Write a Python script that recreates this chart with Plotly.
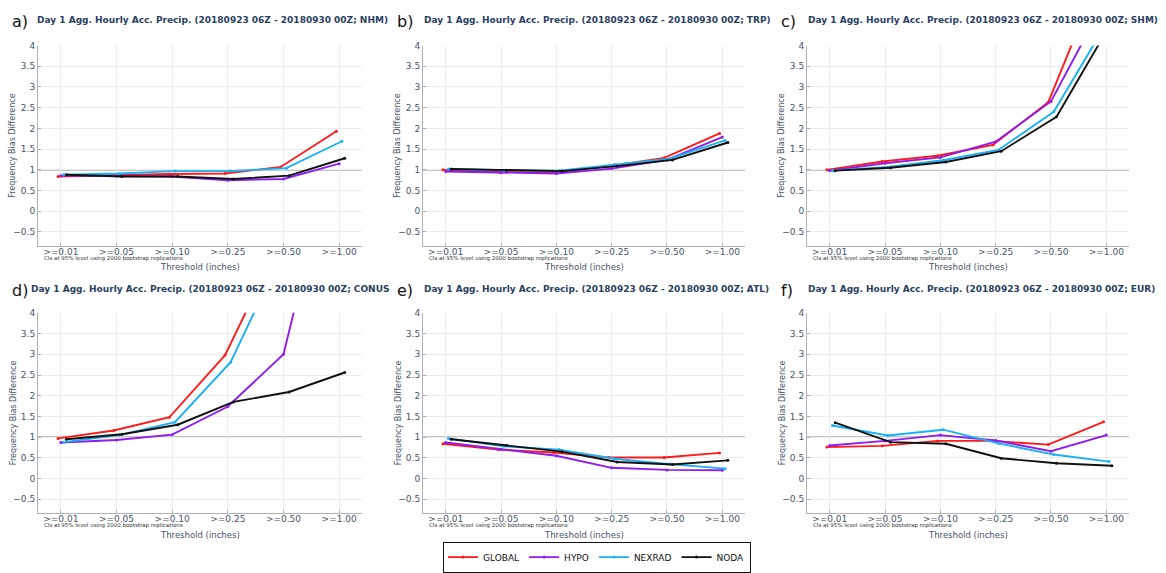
import plotly.graph_objects as go

thresholds = [">=0.01", ">=0.05", ">=0.10", ">=0.25", ">=0.50", ">=1.00"]
series_names = ["GLOBAL", "HYPO", "NEXRAD", "NODA"]
series_colors = ["#ff1a1a", "#8f1cf0", "#1ab0f5", "#111111"]
dodge = [-0.05, 0.0, 0.05, 0.1]

regions = ["NHM", "TRP", "SHM", "CONUS", "ATL", "EUR"]
panel_labels = ["a)", "b)", "c)", "d)", "e)", "f)"]

# Frequency bias values per region, per series (GLOBAL, HYPO, NEXRAD, NODA)
nhm_global = [0.84, 0.87, 0.90, 0.91, 1.07, 1.93]
nhm_hypo = [0.86, 0.85, 0.84, 0.75, 0.78, 1.15]
nhm_nexrad = [0.88, 0.91, 0.97, 0.97, 1.04, 1.69]
nhm_noda = [0.88, 0.84, 0.84, 0.78, 0.86, 1.28]

trp_global = [1.00, 0.95, 0.94, 1.09, 1.29, 1.88]
trp_hypo = [0.96, 0.93, 0.91, 1.03, 1.24, 1.79]
trp_nexrad = [1.02, 0.99, 0.98, 1.13, 1.27, 1.71]
trp_noda = [1.02, 0.99, 0.97, 1.09, 1.24, 1.66]

shm_global = [1.00, 1.20, 1.34, 1.60, 2.63, 5.90]
shm_hypo = [0.98, 1.16, 1.30, 1.68, 2.65, 5.15]
shm_nexrad = [0.98, 1.07, 1.23, 1.48, 2.40, 4.64]
shm_noda = [0.98, 1.05, 1.19, 1.45, 2.28, 4.57]

conus_global = [0.97, 1.16, 1.48, 2.98, 5.75, 7.00]
conus_hypo = [0.87, 0.93, 1.06, 1.74, 3.00, 8.50]
conus_nexrad = [0.88, 1.05, 1.36, 2.81, 5.64, 7.00]
conus_noda = [0.95, 1.07, 1.30, 1.85, 2.09, 2.56]

atl_global = [0.84, 0.70, 0.63, 0.51, 0.51, 0.62]
atl_hypo = [0.87, 0.71, 0.55, 0.26, 0.21, 0.20]
atl_nexrad = [0.97, 0.78, 0.70, 0.48, 0.35, 0.24]
atl_noda = [0.95, 0.80, 0.65, 0.40, 0.34, 0.44]

eur_global = [0.76, 0.79, 0.91, 0.91, 0.82, 1.37]
eur_hypo = [0.80, 0.91, 1.05, 0.92, 0.66, 1.05]
eur_nexrad = [1.28, 1.04, 1.18, 0.85, 0.58, 0.41]
eur_noda = [1.35, 0.88, 0.84, 0.49, 0.37, 0.31]

panel_data = [
    [nhm_global, nhm_hypo, nhm_nexrad, nhm_noda],
    [trp_global, trp_hypo, trp_nexrad, trp_noda],
    [shm_global, shm_hypo, shm_nexrad, shm_noda],
    [conus_global, conus_hypo, conus_nexrad, conus_noda],
    [atl_global, atl_hypo, atl_nexrad, atl_noda],
    [eur_global, eur_hypo, eur_nexrad, eur_noda],
]

W, H = 1166, 573
# pixel boxes of plot areas: (left, right, top, bottom)
col_px = [(38, 362), (423, 745), (807, 1129)]
row_px = [(41.7, 248), (316.7, 523)]

fig = go.Figure()
TXT = "#44546a"
TITLE_C = "#2a3f5f"
FONT = "DejaVu Sans"

for p in range(6):
    r, c = divmod(p, 3)
    ax = "" if p == 0 else str(p + 1)
    xl, xr = col_px[c]
    yt, yb = row_px[r]
    xd = [xl / W, xr / W]
    yd = [1 - yb / H, 1 - yt / H]
    for s in range(4):
        vals = panel_data[p][s]
        xs = [i + dodge[s] for i in range(len(thresholds))]
        fig.add_trace(go.Scatter(
            x=xs, y=vals, mode="lines+markers",
            name=series_names[s], legendgroup=series_names[s],
            showlegend=(p == 0),
            line=dict(color=series_colors[s], width=1.9),
            marker=dict(color=series_colors[s], size=3, symbol="circle"),
            xaxis="x" + ax, yaxis="y" + ax,
        ))
    fig.layout["xaxis" + ax] = dict(
        domain=xd, anchor="y" + ax, range=[-0.41, 5.41],
        tickvals=list(range(len(thresholds))), ticktext=thresholds,
        showgrid=True, gridcolor="#ebebeb", gridwidth=1,
        showline=True, linecolor="#b0b0b0", linewidth=1,
        ticks="inside", ticklen=3, tickcolor="#b0b0b0",
        ticklabelstandoff=-3,
        tickfont=dict(size=9, color=TXT, family=FONT), zeroline=False,
        fixedrange=True,
    )
    fig.layout["yaxis" + ax] = dict(
        domain=yd, anchor="x" + ax, range=[-0.84, 4.0],
        tick0=-0.5, dtick=0.5,
        showgrid=True, gridcolor="#ebebeb", gridwidth=1,
        showline=True, linecolor="#b0b0b0", linewidth=1,
        ticks="inside", ticklen=3, tickcolor="#b0b0b0",
        tickfont=dict(size=9, color=TXT, family=FONT), zeroline=False,
        fixedrange=True,
    )
    # reference line at 1
    fig.add_shape(type="line", xref="x" + ax + " domain", yref="y" + ax,
                  x0=0, x1=1, y0=1, y1=1, line=dict(color="#8c8c8c", width=1.5),
                  layer="below")
    # titles (panel d's title is clipped at the panel edge in the original)
    title = "Day 1 Agg. Hourly Acc. Precip. (20180923 06Z - 20180930 00Z; %s)" % regions[p]
    if p == 3:
        title = title[:-1]
    tx = xl - 3 if c == 0 else xl - 1
    if p == 3:
        tx = xl - 9
    ty = 15.5 if r == 0 else 292
    fig.add_annotation(xref="paper", yref="paper", x=tx / W, y=1 - ty / H,
                       xanchor="left", yanchor="middle", showarrow=False,
                       text="<b>%s</b>" % title,
                       font=dict(size=9, color=TITLE_C, family=FONT))
    lx = [10, 395, 779][c]
    ly = 17 if r == 0 else 294
    fig.add_annotation(xref="paper", yref="paper", x=lx / W, y=1 - ly / H,
                       xanchor="left", yanchor="middle", showarrow=False,
                       text=panel_labels[p], font=dict(size=16, color="#111111", family=FONT))
    # y-axis title
    fig.add_annotation(xref="paper", yref="paper", x=(xl - 25) / W, y=1 - (yt + yb) / 2 / H,
                       xanchor="center", yanchor="middle", showarrow=False, textangle=-90,
                       text="Frequency Bias Difference", font=dict(size=8, color=TXT, family=FONT))
    # x-axis title
    fig.add_annotation(xref="paper", yref="paper", x=(xl + xr) / 2 / W, y=1 - (yb + 22) / H,
                       xanchor="center", yanchor="middle", showarrow=False,
                       text="Threshold (inches)", font=dict(size=8.5, color=TXT, family=FONT))
    # footnote
    fig.add_annotation(xref="paper", yref="paper", x=(xl + 4) / W, y=1 - (yb + 12.5) / H,
                       xanchor="left", yanchor="middle", showarrow=False,
                       text="CIs at 95% level using 2000 bootstrap replications",
                       font=dict(size=5.5, color="#333333", family=FONT))

fig.update_layout(
    width=W, height=H,
    margin=dict(l=0, r=0, t=0, b=0),
    paper_bgcolor="white", plot_bgcolor="white",
    showlegend=True,
    legend=dict(orientation="h", x=597 / W, xanchor="center", y=1 - 552 / H, yanchor="top",
                bordercolor="#111111", borderwidth=1, bgcolor="white",
                font=dict(size=9, color="#111111", family=FONT),
                itemwidth=30, tracegroupgap=0),
)

fig.write_html("out.html", config={"displayModeBar": False},
               post_script="document.body.style.margin='0px';")
